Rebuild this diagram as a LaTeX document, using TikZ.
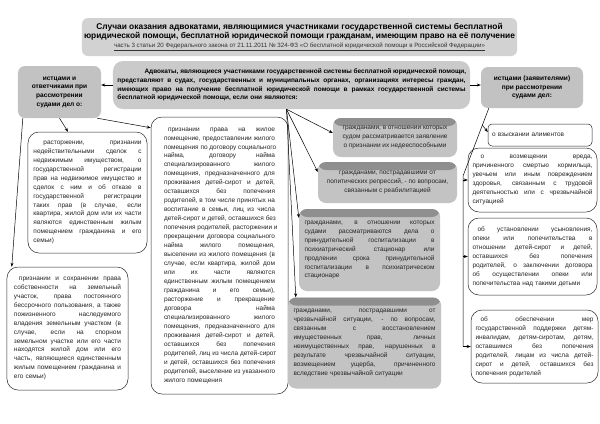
\documentclass[tikz,border=0pt]{standalone}
\usepackage{fontspec}
\setmainfont{Liberation Sans}
\usetikzlibrary{calc,arrows.meta}
\pgfdeclarelayer{bg}
\pgfsetlayers{bg,main}
\definecolor{tface}{HTML}{D2D2D2}
\definecolor{tstrip}{HTML}{8E8E8E}
\definecolor{hface}{HTML}{C2C2C2}
\definecolor{hbev}{HTML}{DCDCDC}
\definecolor{cface}{HTML}{CACACA}
\definecolor{dband}{HTML}{8C8C8C}
\definecolor{gface}{HTML}{C3C3C3}
\definecolor{gtop}{HTML}{8F8F8F}
\definecolor{shd}{HTML}{A6A6A6}
\newlength\jwid
\newcommand\jl[1]{\noindent\hbox to\jwid{\spaceskip=.28em plus 1fil\relax #1}}
\begin{document}
\begin{tikzpicture}[x=1bp,y=-1bp,
  jw/.style={text width=#1, execute at begin node={\setlength\jwid{#1}}},
  body/.style={font=\fontsize{6.5}{9}\selectfont, text=black!85},
  wbox/.style={body, draw=black!85, line width=0.5bp, fill=white, rounded corners=11bp, inner sep=0pt, align=left},
  gbox/.style={body, fill=gface, rounded corners=8bp, inner sep=0pt,
    path picture={\fill[gtop] (path picture bounding box.north west) rectangle ([yshift=-8bp]path picture bounding box.north east);}},
  headbox/.style={font=\fontsize{6.6}{8.7}\selectfont\bfseries, fill=hface, rounded corners=7bp, inner sep=0pt, align=center},
  arr/.style={-{Stealth[length=4bp,width=3bp]}, line width=0.5bp, black},
  ln/.style={line width=0.5bp, black},
]
\useasboundingbox (0,0) rectangle (600,423);
\fill[white] (0,0) rectangle (600,423);

% ---------- title ----------
\node[fill=tface, rounded corners=6bp, inner sep=0pt, align=center,
  minimum width=435bp, minimum height=38bp,
  font=\fontsize{8.4}{9.5}\selectfont\bfseries] (title) at (299.5,37)
  {Случаи оказания адвокатами, являющимися участниками государственной системы бесплатной\\
   юридической помощи, бесплатной юридической помощи гражданам, имеющим право на её получение\\
   {\normalfont\fontsize{6.2}{9.5}\selectfont\color{black!80}\underline{часть 3 статьи 20 Федерального закона от 21.11.2011 № 324-ФЗ «О бесплатной юридической помощи в Российской Федерации»}}};

% ---------- headers ----------
\node[headbox, minimum width=83bp, minimum height=52bp] (lh) at (59.5,92)
  {истцами и\\ ответчиками при\\ рассмотрении\\ судами дел о:};
\node[fill=cface, rounded corners=10bp, inner sep=0pt, align=left, jw=348bp,
  minimum width=357bp, minimum height=48bp,
  font=\fontsize{6.5}{8.6}\selectfont\bfseries] (cen) at (291.5,85)
  {\jl{\hspace*{27bp}Адвокаты, являющиеся участниками государственной системы бесплатной юридической помощи,}\\
   \jl{представляют в судах, государственных и муниципальных органах, организациях интересы граждан,}\\
   \jl{имеющих право на получение бесплатной юридической помощи в рамках государственной системы}\\
   бесплатной юридической помощи, если они являются:};
\node[headbox, minimum width=102bp, minimum height=41bp] (rh) at (532,87.5)
  {истцами (заявителями)\\ при рассмотрении\\ судами дел:};

% ---------- left column ----------
\node[wbox, jw=108bp, minimum width=119bp, minimum height=121bp] (lb1) at (87.5,192.5)
  {\jl{\hspace*{10bp}расторжении, признании}\\
   \jl{недействительными сделок с}\\
   \jl{недвижимым имуществом, о}\\
   \jl{государственной регистрации}\\
   \jl{прав на недвижимое имущество и}\\
   \jl{сделок с ним и об отказе в}\\
   \jl{государственной регистрации}\\
   \jl{таких прав (в случае, если}\\
   \jl{квартира, жилой дом или их части}\\
   \jl{являются единственным жилым}\\
   \jl{помещением гражданина и его}\\
   семьи)};
\node[wbox, jw=107bp, minimum width=121bp, minimum height=123bp] (lb2) at (67.5,328.5)
  {\jl{\hspace*{5bp}признании и сохранении права}\\
   \jl{собственности на земельный}\\
   \jl{участок, права постоянного}\\
   \jl{бессрочного пользования, а также}\\
   \jl{пожизненного наследуемого}\\
   \jl{владения земельным участком (в}\\
   \jl{случае, если на спорном}\\
   \jl{земельном участке или его части}\\
   \jl{находятся жилой дом или его}\\
   \jl{часть, являющиеся единственным}\\
   \jl{жилым помещением гражданина и}\\
   его семьи)};

% ---------- centre white ----------
\node[wbox, jw=111bp, minimum width=137bp, minimum height=277bp] (cw) at (219.5,255.5)
  {\jl{\hspace*{4bp}признании права на жилое}\\
   \jl{помещение, предоставлении жилого}\\
   \jl{помещения по договору социального}\\
   \jl{найма, договору найма}\\
   \jl{специализированного жилого}\\
   \jl{помещения, предназначенного для}\\
   \jl{проживания детей-сирот и детей,}\\
   \jl{оставшихся без попечения}\\
   \jl{родителей, в том числе принятых на}\\
   \jl{воспитание в семьи, лиц из числа}\\
   \jl{детей-сирот и детей, оставшихся без}\\
   \jl{попечения родителей, расторжении и}\\
   \jl{прекращении договора социального}\\
   \jl{найма жилого помещения,}\\
   \jl{выселении из жилого помещения (в}\\
   \jl{случае, если квартира, жилой дом}\\
   \jl{или их части являются}\\
   \jl{единственным жилым помещением}\\
   \jl{гражданина и его семьи),}\\
   \jl{расторжение и прекращение}\\
   \jl{договора найма}\\
   \jl{специализированного жилого}\\
   \jl{помещения, предназначенного для}\\
   \jl{проживания детей-сирот и детей,}\\
   \jl{оставшихся без попечения}\\
   \jl{родителей, лиц из числа детей-сирот}\\
   \jl{и детей, оставшихся без попечения}\\
   \jl{родителей, выселение из указанного}\\
   жилого помещения};

% ---------- middle gray ----------
\node[gbox, align=center, minimum width=124bp, minimum height=39bp] (ma) at (395,137.5)
  {гражданами, в отношении которых\\ судом рассматривается заявление\\ о признании их недееспособными};
\node[gbox, align=center, minimum width=139bp, minimum height=41bp] (mb) at (387.5,182.5)
  {гражданами, пострадавшими от\\ политических репрессий, - по вопросам,\\ связанным с реабилитацией};
\node[gbox, align=left, jw=130bp, minimum width=141bp, minimum height=82bp] (mc) at (369.5,250)
  {\jl{гражданами, в отношении которых}\\
   \jl{судами рассматриваются дела о}\\
   \jl{принудительной госпитализации в}\\
   \jl{психиатрический стационар или}\\
   \jl{продлении срока принудительной}\\
   \jl{госпитализации в психиатрическом}\\
   стационаре};
\node[gbox, align=left, jw=142bp, minimum width=153bp, minimum height=91bp] (md) at (364.5,343)
  {\jl{гражданами, пострадавшими от}\\
   \jl{чрезвычайной ситуации, - по вопросам,}\\
   \jl{связанным с восстановлением}\\
   \jl{имущественных прав, личных}\\
   \jl{неимущественных прав, нарушенных в}\\
   \jl{результате чрезвычайной ситуации,}\\
   \jl{возмещением ущерба, причиненного}\\
   вследствие чрезвычайной ситуации};

% ---------- right column ----------
\node[wbox, rounded corners=4bp, text width=96bp, minimum width=104bp, minimum height=22bp] (ra) at (540,135)
  {о взыскании алиментов};
\node[wbox, jw=120bp, minimum width=129bp, minimum height=64bp] (rb) at (532.5,180)
  {\jl{\hspace*{8bp}о возмещении вреда,}\\
   \jl{причиненного смертью кормильца,}\\
   \jl{увечьем или иным повреждением}\\
   \jl{здоровья, связанным с трудовой}\\
   \jl{деятельностью или с чрезвычайной}\\
   ситуацией};
\node[wbox, jw=120bp, minimum width=129bp, minimum height=77bp] (rc) at (532.5,256.5)
  {\jl{\hspace*{5bp}об установлении усыновления,}\\
   \jl{опеки или попечительства в}\\
   \jl{отношении детей-сирот и детей,}\\
   \jl{оставшихся без попечения}\\
   \jl{родителей, о заключении договора}\\
   \jl{об осуществлении опеки или}\\
   попечительства над такими детьми};
\node[wbox, jw=118bp, minimum width=127bp, minimum height=73bp] (rd) at (534.5,346.5)
  {\jl{\hspace*{5bp}об обеспечении мер}\\
   \jl{государственной поддержки детям-}\\
   \jl{инвалидам, детям-сиротам, детям,}\\
   \jl{оставшимся без попечения}\\
   \jl{родителей, лицам из числа детей-}\\
   \jl{сирот и детей, оставшихся без}\\
   попечения родителей};

% ---------- background decorations ----------
\begin{pgfonlayer}{bg}
  \fill[tstrip, rounded corners=7bp] ([shift={(2bp,8bp)}]title.north west) rectangle ([shift={(4bp,-12bp)}]title.north east);
  \fill[hbev, rounded corners=7bp] ([shift={(6bp,4bp)}]lh.north west) rectangle ([shift={(6bp,4bp)}]lh.south east);
  \fill[hbev, rounded corners=7bp] ([shift={(5bp,4bp)}]rh.north west) rectangle ([shift={(5bp,4bp)}]rh.south east);
  \fill[dband, rounded corners=9bp]
    ([shift={(30bp,12bp)}]cen.south west) -- ([shift={(0bp,12bp)}]cen.south east)
    -- ([shift={(0bp,-42bp)}]cen.south east) -- ([shift={(-1bp,-42bp)}]cen.south -| cw.east)
    -- ([shift={(-1bp,-16bp)}]cen.south -| cw.east) -- ([shift={(30bp,-16bp)}]cen.south west) -- cycle;
  \foreach \b in {lb1,lb2,cw}
    \fill[shd, rounded corners=12bp] ([shift={(-3.5bp,3.5bp)}]\b.north west) rectangle ([shift={(1bp,-1bp)}]\b.south east);
  \foreach \b in {ra,rb,rc,rd}
    \fill[shd, rounded corners=9bp] ([shift={(-1bp,1bp)}]\b.north west) rectangle ([shift={(3bp,-3bp)}]\b.south east);
\end{pgfonlayer}

% ---------- connectors ----------
\draw[arr] (cen.west) -- (lh.east |- cen.west);
\draw[arr] (cen.east) -- (rh.west |- cen.east);
\draw[arr] (lh.south) -- ([xshift=-19.5bp]lb1.north);
\draw[arr] ([xshift=-4bp]lh.south east) -- ([yshift=-11bp]cw.north west);
\draw[arr] ([xshift=5bp]lh.south west) -- ([xshift=5bp]lb2.north west);

\coordinate (f) at ([xshift=-5bp]cen.south);
\draw[arr] (f) -- ([yshift=4.5bp]ma.west);
\draw[arr] (f) -- ([yshift=10.5bp]mb.west);
\draw[arr] (f) -- ([yshift=-9bp]mc.north west);
\draw[arr] (f) -- ([xshift=8bp]md.north west);

\coordinate (rs) at ([xshift=8bp]rh.south west);
\coordinate (rk) at (463,176);
\draw[ln] (rs) -- (rk) -- (rk |- rd.west);
\draw[arr] ($(rs)!0.25!(rk)$) -- ([yshift=3bp]ra.west);
\draw[arr] (rk |- rb.west) -- (rb.west);
\draw[arr] (rk |- rc.west) -- (rc.west);
\draw[arr] (rk |- rd.west) -- (rd.west);
\end{tikzpicture}
\end{document}
